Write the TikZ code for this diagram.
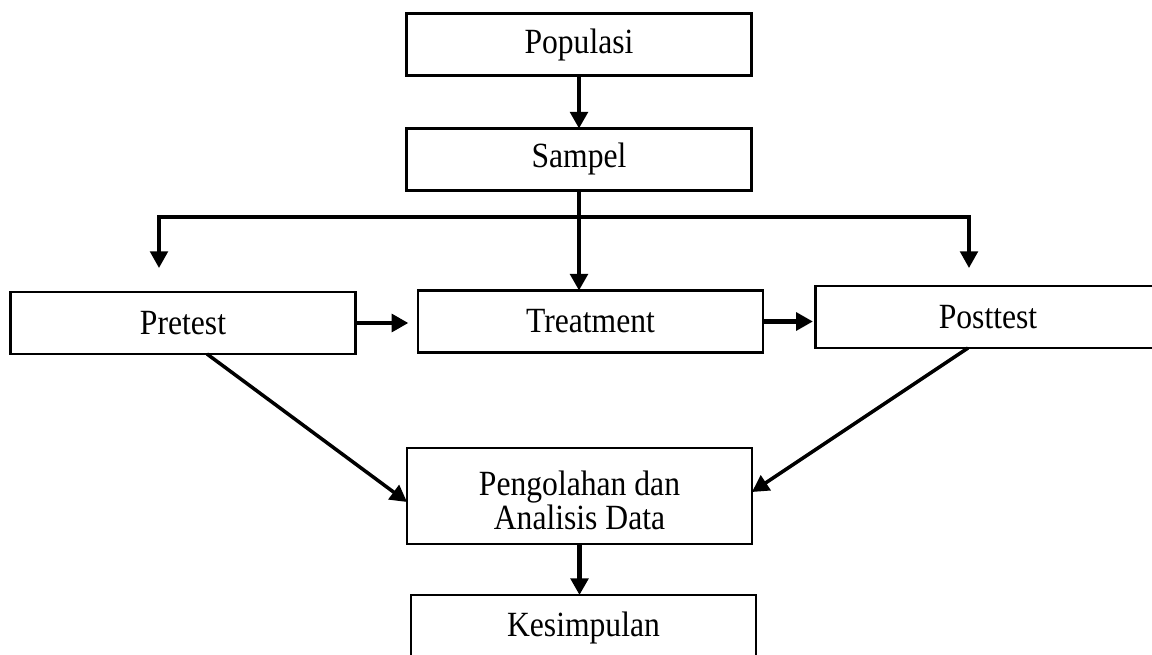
\documentclass[tikz,border=0pt]{standalone}
\usepackage{fontspec}
\setmainfont{Liberation Serif}
\usetikzlibrary{arrows.meta,positioning,calc}
\newcommand{\tall}[1]{\scalebox{1}[1.12]{#1}}

\begin{document}
\begin{tikzpicture}[x=0.02cm,y=-0.02cm,
  box/.style={draw,line width=1.6pt,minimum width=6.9cm,minimum height=1.24cm,
              inner sep=0pt,outer sep=0pt,align=center,
              font=\fontsize{18}{19}\selectfont},
  arr/.style={-{Triangle[length=9.5pt,width=10pt]},line width=2.3pt},
  node distance=1.06cm
]
\clip (0,0) rectangle (1152,655);
\node[box] (pop) at (579,44.5) {\tall{Populasi}};
\node[box,below=of pop] (samp) {\tall{Sampel}};
\node[box] (treat) at (590.5,321.5) {\tall{Treatment}};
\node[box] (pre) at (183,323) {\tall{Pretest}};
\node[box] (post) at (988,317) {\tall{Posttest}};
\node[box,minimum height=1.92cm] (proc) at (579.5,496)
  {\rule{0pt}{19pt}\tall{Pengolahan dan}\\\tall{Analisis Data}};
\node[box,below=1.02cm of proc,xshift=0.08cm] (kes) {\rule{0pt}{16pt}\tall{Kesimpulan}};

% percabangan dari sampel
\coordinate (bl) at (159,217);
\coordinate (br) at (969,217);
\coordinate (lt) at (159,268);
\coordinate (rt) at (969,268);

\draw[arr] (pop.south) -- (samp.north);
\draw[arr] (samp.south) -- (samp.south |- treat.north);
\draw[arr,line width=2pt] (samp.south |- bl) -| (lt);
\draw[arr,line width=2pt] (samp.south |- br) -| (rt);
\draw[arr,shorten <=1pt,shorten >=5.5pt] (pre.east) -- (pre.east -| treat.west);
\draw[arr,shorten >=1.5pt] (treat.east) -- (treat.east -| post.west);
\draw[arr,line width=2pt] ($(pre.south)+(24,0)$) -- ($(proc.west)+(0,6)$);
\draw[arr,line width=2pt] ($(post.south)+(-20,0)$) -- ($(proc.east)+(0,-4)$);
\draw[arr] (proc.south) -- (proc.south |- kes.north);
\end{tikzpicture}
\end{document}
